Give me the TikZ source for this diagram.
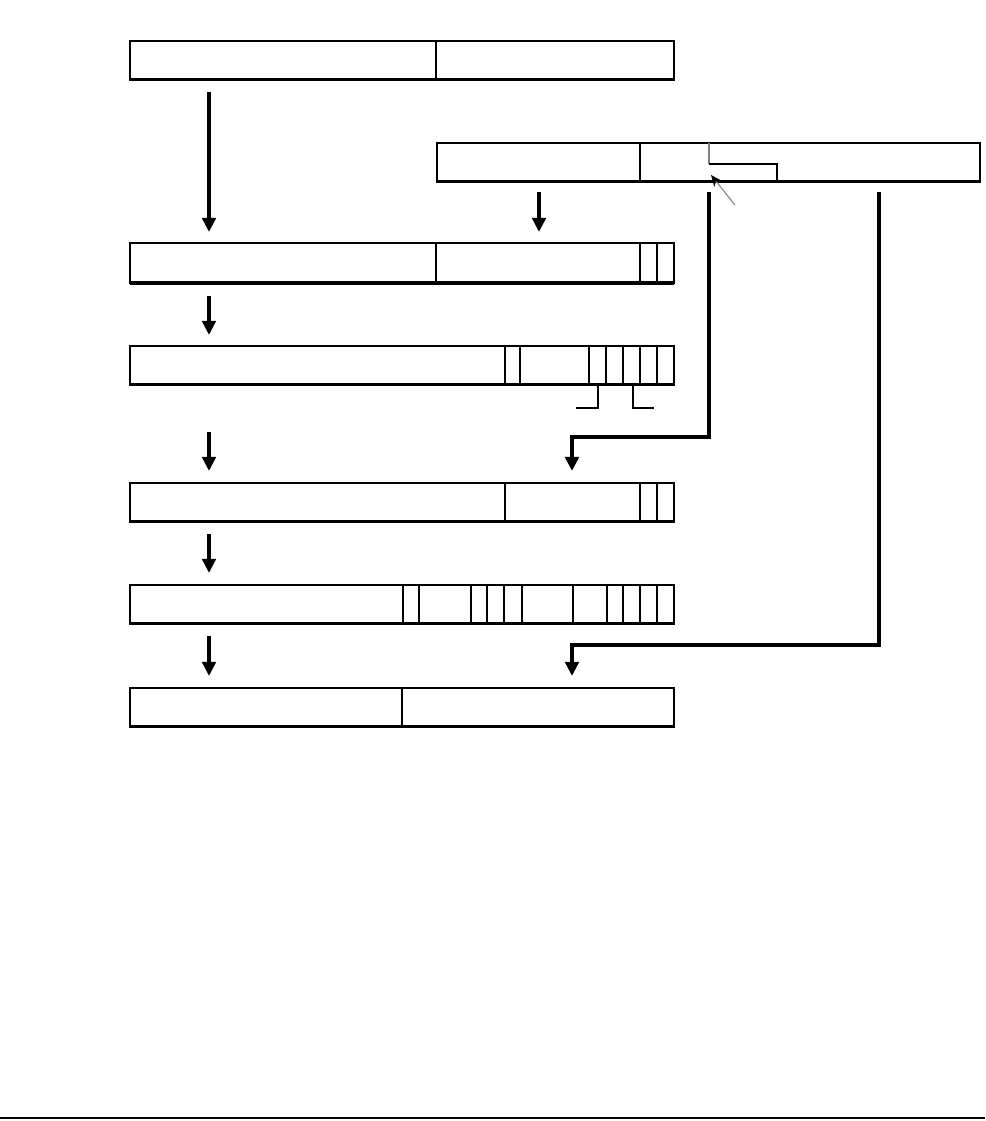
\documentclass[tikz,border=0pt]{standalone}
\usetikzlibrary{arrows.meta}
\tikzset{
  rowbox/.style={draw, line width=1.3pt, minimum width=10.88cm, minimum height=0.77cm,
    anchor=north west, inner sep=0pt, outer sep=0pt},
  divider/.style={line width=1pt},
  flow/.style={line width=2.1pt, -{Triangle[length=8pt,width=7.6pt]}},
}
\begin{document}
\begin{tikzpicture}[x=0.02cm, y=-0.02cm]
  \useasboundingbox (0,0) rectangle (985,1121);
  % rows
  \node[rowbox] (r1) at (130,41) {};
  \node[rowbox, minimum width=10.86cm] (r2) at (437,143) {};
  \node[rowbox, minimum height=0.8cm] (r3) at (130,243) {};
  \node[rowbox] (r4) at (130,346) {};
  \node[rowbox] (r5) at (130,483) {};
  \node[rowbox] (r6) at (130,585) {};
  \node[rowbox] (r7) at (130,688) {};
  \foreach \r in {r1,r2,r3,r4,r5,r6,r7}
    \draw[line width=2pt] (\r.south west) -- (\r.south east);
  % fields
  \foreach \x in {436} \draw[divider] (\x,41) -- (\x,79);
  \draw[divider] (640,143) -- (640,181);
  \draw[gray, line width=0.7pt] (709,143) -- (709,164);
  \draw[line width=1.3pt] (709,164) -| (777,181);
  \foreach \x in {436,640,657} \draw[divider] (\x,243) -- (\x,283);
  \foreach \x in {505,520,589,606,623,640,657} \draw[divider] (\x,346) -- (\x,385);
  \draw[line width=0.9pt] (598,385) |- (576,408);
  \draw[line width=0.9pt] (633,385) |- (654,408);
  \foreach \x in {505,640,657} \draw[divider] (\x,483) -- (\x,522);
  \foreach \x in {403,419,471,487,504,522,573,607,623,640,657} \draw[divider] (\x,585) -- (\x,624);
  \foreach \x in {402} \draw[divider] (\x,688) -- (\x,726);
  % arrows
  \coordinate (s1) at (209,92);  \coordinate (e1) at (209,232);
  \coordinate (s2) at (539,192); \coordinate (e2) at (539,232);
  \coordinate (s3) at (209,296); \coordinate (e3) at (209,335);
  \coordinate (s4) at (209,432); \coordinate (e4) at (209,471);
  \coordinate (s5) at (709,192); \coordinate (k5) at (572,437); \coordinate (e5) at (572,471);
  \coordinate (s6) at (209,534); \coordinate (e6) at (209,573);
  \coordinate (s7) at (209,636); \coordinate (e7) at (209,676);
  \coordinate (s8) at (879,192); \coordinate (k8) at (572,645); \coordinate (e8) at (572,676);
  \foreach \a in {1,2,3,4,6,7} \draw[flow] (s\a) -- (e\a);
  \draw[flow] (s5) |- (k5) -- (e5);
  \draw[flow] (s8) |- (k8) -- (e8);
  % pointer
  \coordinate (n1) at (735,205); \coordinate (n2) at (711,175);
  \draw[gray, line width=0.6pt, -{Stealth[black,length=6.5pt,width=5.5pt]}] (n1) -- (n2);
  % rule
  \draw[line width=1.2pt] (0,1118) -- (985,1118);
\end{tikzpicture}
\end{document}
